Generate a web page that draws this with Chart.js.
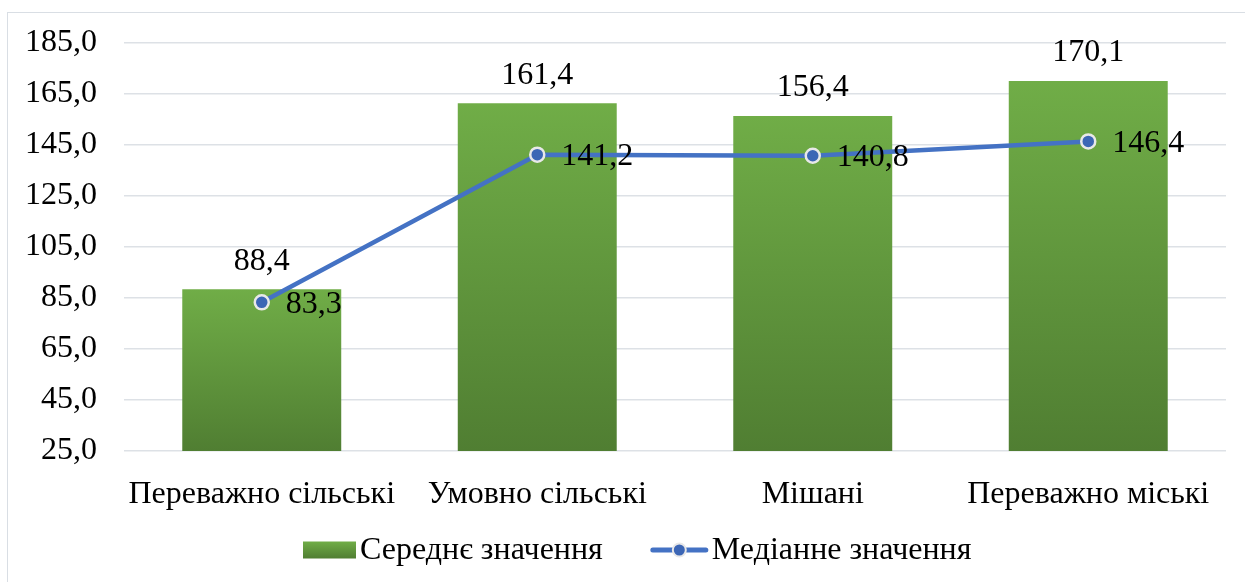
<!DOCTYPE html>
<html><head><meta charset="utf-8">
<script src="https://cdn.jsdelivr.net/npm/chart.js@4/dist/chart.umd.min.js"></script>
<style>html,body{margin:0;padding:0;background:#fff;overflow:hidden}</style>
</head><body>
<canvas id="c" width="1245" height="582" style="display:block;width:1245px;height:582px"></canvas>
<script>
const categories = ['Переважно сільські', 'Умовно сільські', 'Мішані', 'Переважно міські'];
const meanValues = [88.4, 161.4, 156.4, 170.1];
const medianValues = [83.3, 141.2, 140.8, 146.4];
const seriesNames = ['Середнє значення', 'Медіанне значення'];
const yMin = 25, yMax = 185, yStep = 20;

const FONT = "'Liberation Serif', 'Times New Roman', serif";
const FS = 32;
const fmt = v => v.toFixed(1).replace('.', ',');
const GREEN_TOP = '#70AD47', GREEN_BOT = '#507E32';
const BLUE = '#4472C4';

function barGradient(ctx) {
  const chart = ctx.chart;
  const y = chart.scales && chart.scales.y;
  if (!y || ctx.type !== 'data') return GREEN_TOP;
  const top = y.getPixelForValue(ctx.raw);
  const bot = y.getPixelForValue(yMin);
  if (!isFinite(top) || !isFinite(bot) || top === bot) return GREEN_TOP;
  const g = chart.ctx.createLinearGradient(0, top, 0, bot);
  g.addColorStop(0, GREEN_TOP);
  g.addColorStop(1, GREEN_BOT);
  return g;
}

const framePlugin = {
  id: 'frame',
  beforeDraw(chart) {
    const c = chart.ctx;
    c.save();
    c.fillStyle = '#fff';
    c.fillRect(0, 0, chart.width, chart.height);
    c.strokeStyle = '#D9DEE4';
    c.lineWidth = 1;
    c.strokeRect(7.5, 12.5, chart.width + 20, chart.height + 20);
    c.restore();
  }
};

const labelsPlugin = {
  id: 'valueLabels',
  afterDatasetsDraw(chart) {
    const c = chart.ctx;
    c.save();
    c.font = FS + 'px ' + FONT;
    c.fillStyle = '#000';
    const barMeta = chart.getDatasetMeta(0);
    barMeta.data.forEach((el, i) => {
      c.textAlign = 'center';
      c.textBaseline = 'middle';
      c.fillText(fmt(meanValues[i]), el.x, el.y - 28);
    });
    const lineMeta = chart.getDatasetMeta(1);
    lineMeta.data.forEach((el, i) => {
      c.textAlign = 'left';
      c.textBaseline = 'middle';
      c.fillText(fmt(medianValues[i]), el.x + 24, el.y + 2);
    });
    c.restore();
  }
};

const legendPlugin = {
  id: 'customLegend',
  afterDraw(chart) {
    const c = chart.ctx;
    c.save();
    c.font = FS + 'px ' + FONT;
    c.textBaseline = 'middle';
    c.textAlign = 'left';
    c.fillStyle = '#000';
    const cy = 550;
    const w1 = c.measureText(seriesNames[0]).width;
    const w2 = c.measureText(seriesNames[1]).width;
    const boxW = 53, boxH = 17, gap = 4, iconW = 57, between = 48;
    const total = boxW + gap + w1 + between + iconW + gap + w2;
    let x = Math.round(637 - total / 2);
    const g = c.createLinearGradient(0, cy - boxH / 2, 0, cy + boxH / 2);
    g.addColorStop(0, GREEN_TOP); g.addColorStop(1, GREEN_BOT);
    c.fillStyle = g;
    c.fillRect(x, cy - boxH / 2, boxW, boxH);
    x += boxW + gap;
    c.fillStyle = '#000';
    c.fillText(seriesNames[0], x, cy + 1);
    x += w1 + between;
    c.strokeStyle = BLUE;
    c.lineWidth = 5;
    c.lineCap = 'round';
    c.beginPath(); c.moveTo(x + 2, cy); c.lineTo(x + iconW - 2, cy); c.stroke();
    c.beginPath(); c.arc(x + iconW / 2, cy, 6.5, 0, Math.PI * 2);
    c.fillStyle = '#3C66B5'; c.fill();
    c.lineWidth = 2; c.strokeStyle = '#E8E8E8'; c.stroke();
    x += iconW + gap;
    c.fillStyle = '#000';
    c.fillText(seriesNames[1], x, cy + 1);
    c.restore();
  }
};

new Chart(document.getElementById('c'), {
  data: {
    labels: categories,
    datasets: [
      {
        type: 'bar',
        label: seriesNames[0],
        data: meanValues,
        backgroundColor: barGradient,
        categoryPercentage: 1,
        barPercentage: 0.577,
        order: 1
      },
      {
        type: 'line',
        label: seriesNames[1],
        data: medianValues,
        borderColor: BLUE,
        borderWidth: 4.5,
        pointRadius: 7,
        pointHoverRadius: 7,
        pointBackgroundColor: '#3C66B5',
        pointBorderColor: '#E8E8E8',
        pointBorderWidth: 2.5,
        tension: 0,
        order: 0
      }
    ]
  },
  options: {
    responsive: false,
    animation: false,
    devicePixelRatio: 1,
    layout: { padding: { left: 0, right: 19, top: 43, bottom: 0 } },
    plugins: { legend: { display: false }, tooltip: { enabled: false } },
    scales: {
      x: {
        grid: { display: false },
        border: { display: false },
        ticks: { color: '#000', font: { family: FONT, size: FS }, padding: 16, maxRotation: 0, autoSkip: false },
        afterFit(s) { s.height = 131; s.paddingLeft = 0; s.paddingRight = 0; }
      },
      y: {
        min: yMin, max: yMax,
        grid: { color: '#DDE1E6', lineWidth: 1.5, drawTicks: false },
        border: { display: false },
        ticks: { stepSize: yStep, color: '#000', font: { family: FONT, size: FS }, padding: 27, callback: v => fmt(v) },
        afterFit(s) { s.width = 124; s.paddingTop = 0; s.paddingBottom = 0; }
      }
    }
  },
  plugins: [framePlugin, labelsPlugin, legendPlugin]
});
</script>
</body></html>
